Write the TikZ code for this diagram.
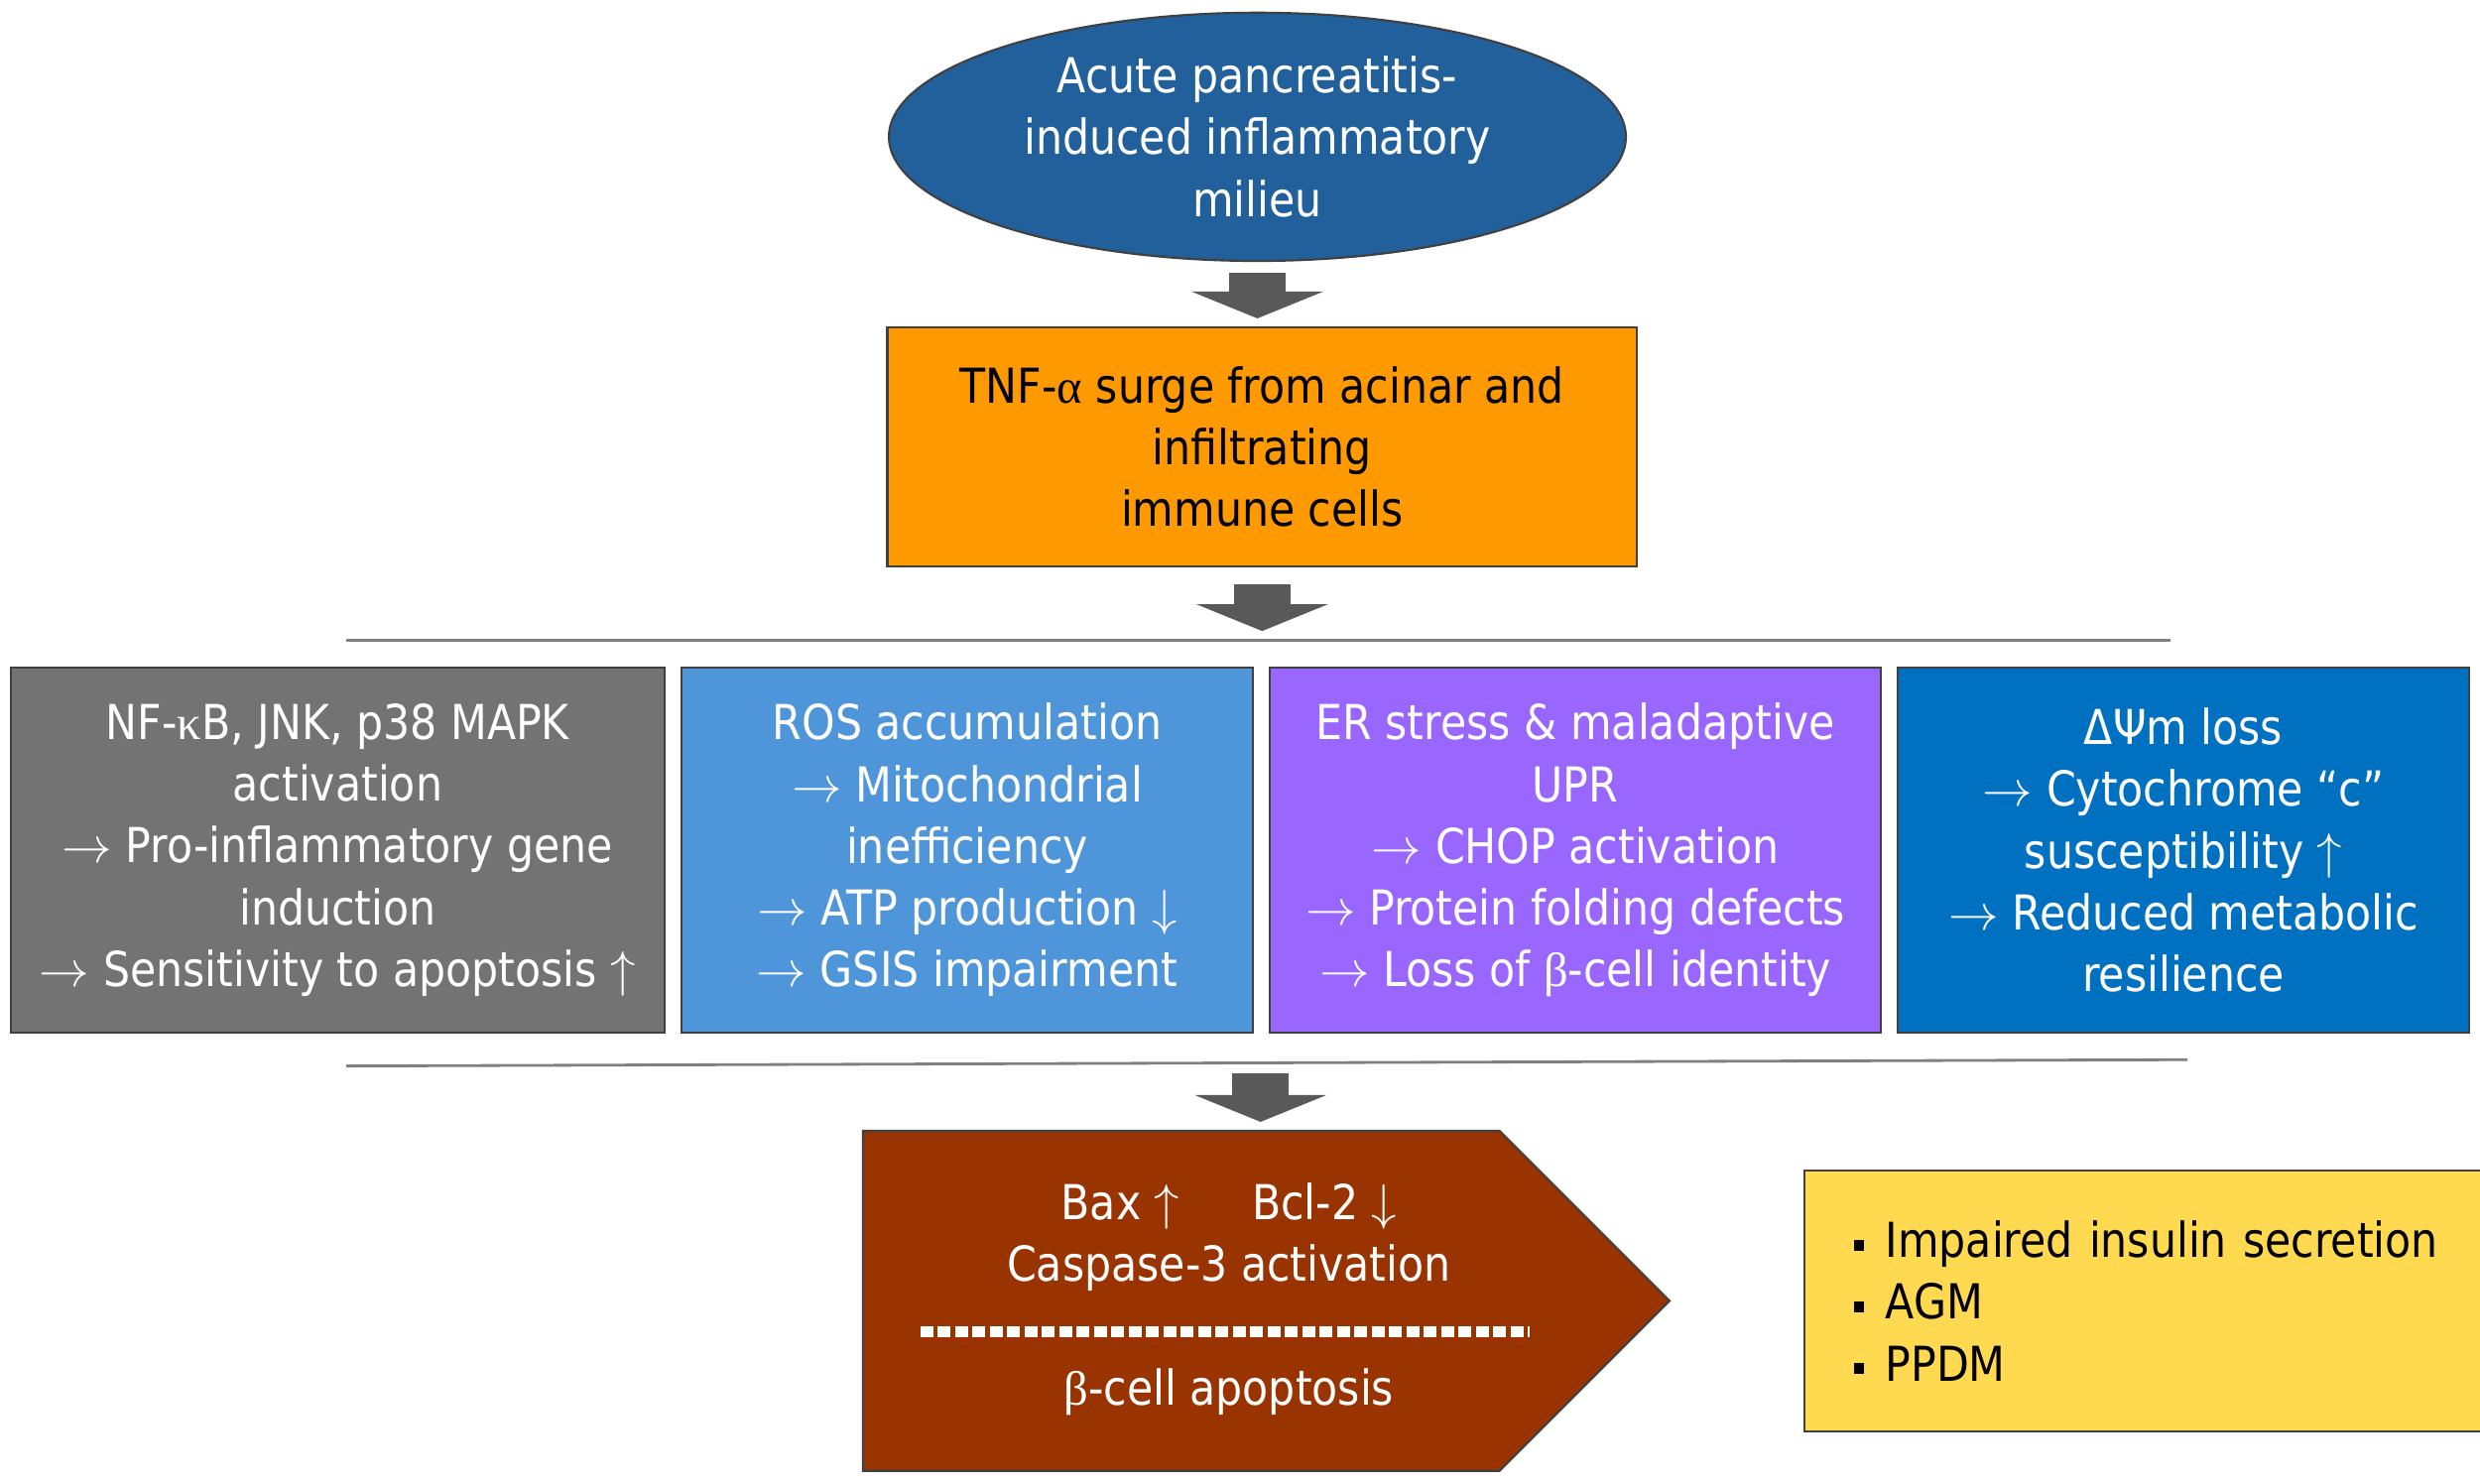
\documentclass[tikz,border=0pt]{standalone}
\usepackage{fontspec}
\setmainfont{DejaVu Sans}[FakeStretch=0.88]
\newfontfamily\greekfont{Liberation Serif}
\usetikzlibrary{arrows.meta,positioning,shapes.geometric,shapes.symbols,calc}
\definecolor{milieublue}{HTML}{22609B}
\definecolor{tnforange}{HTML}{FF9900}
\definecolor{mapkgray}{HTML}{737373}
\definecolor{rosblue}{HTML}{4F95DA}
\definecolor{erpurple}{HTML}{9966FF}
\definecolor{dpsiblue}{HTML}{0070C0}
\definecolor{apopbrown}{HTML}{993300}
\definecolor{outyellow}{HTML}{FFD94F}
\definecolor{edgegray}{HTML}{404040}
\definecolor{arrgray}{HTML}{595959}
\newcommand{\gk}[1]{{\greekfont #1}}
\newcommand{\bull}{\makebox[0.32cm][l]{\raisebox{0.07cm}{\rule{0.1cm}{0.11cm}}}}

\begin{document}
\begin{tikzpicture}[
        x=0.015944cm, y=-0.015944cm,
        font=\fontsize{13.8pt}{17.7pt}\selectfont,
        box/.style={draw=edgegray, line width=0.6pt, minimum height=3.683cm, align=center, text=white, inner sep=0pt},
        blockarrow/.style={arrgray, line width=0.574cm, -{Triangle[width=1.323cm, length=0.271cm]}},
        divider/.style={draw=gray, line width=0.8pt}
    ]
    \useasboundingbox (0,0) rectangle (1568,938);

    \node[ellipse, draw=edgegray, line width=0.6pt, fill=milieublue, text=white, minimum width=7.43cm, minimum height=2.503cm, align=center, inner sep=0pt] (milieu) at (795,86.5) {Acute pancreatitis-\\induced inflammatory\\milieu};
    \node[box, fill=tnforange, text=black, minimum width=7.557cm, minimum height=2.408cm] (tnf) at (798,282.5) {TNF-\gk{α} surge from acinar and\\infiltrating\\immune cells};

    \coordinate (splitL) at (219,405);
    \coordinate (splitR) at (1372,405);
    \draw[divider] (splitL) -- (splitR);

    \node[box, fill=mapkgray, minimum width=6.585cm] (mapk) at (213.5,537.5) {NF-\gk{κ}B, JNK, p38 MAPK\\activation\\$\rightarrow$ Pro-inflammatory gene\\induction\\$\rightarrow$ Sensitivity to apoptosis $\uparrow$};
    \node[box, fill=rosblue, minimum width=5.756cm] (ros) at (611.5,537.5) {ROS accumulation\\$\rightarrow$ Mitochondrial\\inefficiency\\$\rightarrow$ ATP production $\downarrow$\\$\rightarrow$ GSIS impairment};
    \node[box, fill=erpurple, minimum width=6.154cm] (erstress) at (996,537.5) {ER stress \& maladaptive\\UPR\\$\rightarrow$ CHOP activation\\$\rightarrow$ Protein folding defects\\$\rightarrow$ Loss of \gk{β}-cell identity};
    \node[box, fill=dpsiblue, minimum width=5.756cm] (dpsi) at (1380.5,537.5) {ΔΨm loss\\$\rightarrow$ Cytochrome “c”\\susceptibility $\uparrow$\\$\rightarrow$ Reduced metabolic\\resilience};

    \coordinate (mergeL) at (219,674);
    \coordinate (mergeR) at (1383,670);
    \coordinate (mergeM) at (797,672);
    \draw[divider] (mergeL) -- (mergeR);

    \node[signal, signal to=east, signal pointer angle=90, draw=edgegray, line width=0.6pt, fill=apopbrown, minimum width=8.131cm, minimum height=3.428cm, inner sep=0pt, anchor=west] (apop) at (545,822.5) {};
    \node[text=white, align=center] (caspase) at (777,782) {Bax $\uparrow$\hspace{0.73cm}Bcl-2 $\downarrow$\\Caspase-3 activation};
    \node[text=white] (betaapop) at (777,880) {\gk{β}-cell apoptosis};
    \draw[white, line width=0.11cm, dash pattern=on 0.13cm off 0.045cm] (582,842) -- (967,842);

    \node[draw=edgegray, line width=0.6pt, fill=outyellow, minimum height=2.631cm, text width=5.9cm, inner xsep=0.5cm, align=left, anchor=west] (outcome) at (1140,822.5) {\bull Impaired insulin secretion\\\bull AGM\\\bull PPDM};

    \draw[blockarrow] ([yshift=-0.11cm]milieu.south) -- ([yshift=0.08cm]milieu.south |- tnf.north);
    \draw[blockarrow] ([yshift=-0.175cm]tnf.south) -- ([yshift=0.096cm]tnf.south |- splitL);
    \draw[blockarrow] ([yshift=-0.11cm]mergeM) -- ([yshift=0.08cm]mergeM |- apop.north);
\end{tikzpicture}
\end{document}
